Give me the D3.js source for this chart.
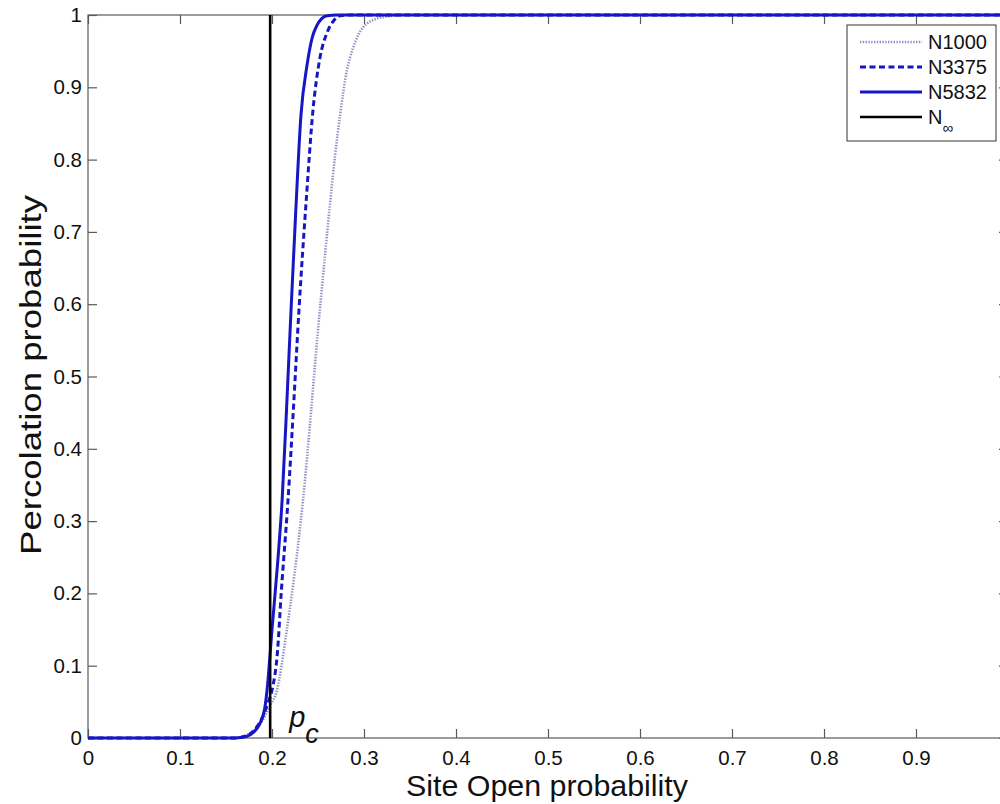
<!DOCTYPE html>
<html><head><meta charset="utf-8">
<script src="https://cdn.jsdelivr.net/npm/d3@7"></script>
<style>body{margin:0;background:#fff}svg{display:block}</style>
</head><body>
<svg id="c" width="1000" height="804"></svg>
<script>
const xTicks = [0,0.1,0.2,0.3,0.4,0.5,0.6,0.7,0.8,0.9,1];
const yTicks = [0,0.1,0.2,0.3,0.4,0.5,0.6,0.7,0.8,0.9,1];
const seriesNames = ["N1000","N3375","N5832"];
const n1000X = [0,0.16,0.17,0.18,0.19,0.198,0.2054,0.215,0.2337,0.252,0.274,0.2815,0.288,0.299,0.314,0.325,0.347,1];
const n1000Y = [0,0,0.003,0.01,0.025,0.045,0.066,0.14,0.329,0.592,0.862,0.924,0.954,0.983,0.995,0.998,1,1];
const n3375X = [0,0.16,0.17,0.18,0.19,0.196,0.2,0.206,0.21,0.2174,0.2235,0.2293,0.237,0.2446,0.252,0.26,0.267,0.274,0.285,1];
const n3375Y = [0,0,0.002,0.01,0.03,0.05,0.066,0.12,0.2,0.329,0.46,0.592,0.74,0.869,0.94,0.976,0.992,0.999,1,1];
const n5832X = [0,0.16,0.172,0.18,0.186,0.192,0.1946,0.2,0.206,0.211,0.216,0.2207,0.2255,0.2315,0.238,0.244,0.249,0.254,0.26,0.27,1];
const n5832Y = [0,0,0.002,0.008,0.018,0.04,0.066,0.15,0.24,0.329,0.46,0.592,0.72,0.862,0.93,0.97,0.986,0.995,0.999,1,1];
const pc = 0.198;

const svg = d3.select("#c");
const L = 88, T = 15, R = 1008, B = 738;
const x = d3.scaleLinear().domain([0,1]).range([L,R]);
const y = d3.scaleLinear().domain([0,1]).range([B,T]);
const axisCol = "#5a5a5a";
const font = "Liberation Sans, Arial, sans-serif";

svg.append("rect").attr("x",L).attr("y",T).attr("width",R-L).attr("height",B-T)
  .attr("fill","none").attr("stroke",axisCol).attr("stroke-width",1.2);

const tl = 9;
const gx = svg.append("g").attr("transform",`translate(0,${B})`)
  .call(d3.axisBottom(x).tickValues(xTicks.slice(0,10)).tickSize(-tl).tickPadding(12).tickFormat(d3.format("")));
const gxt = svg.append("g").attr("transform",`translate(0,${T})`)
  .call(d3.axisTop(x).tickValues(xTicks).tickSize(-tl).tickFormat(""));
const gy = svg.append("g").attr("transform",`translate(${L},0)`)
  .call(d3.axisLeft(y).tickValues(yTicks).tickSize(-tl).tickPadding(6).tickFormat(d3.format("")));
const gyr = svg.append("g").attr("transform",`translate(${R},0)`)
  .call(d3.axisRight(y).tickValues(yTicks).tickSize(-tl).tickFormat(""));
[gx,gxt,gy,gyr].forEach(g=>{
  g.select(".domain").remove();
  g.selectAll(".tick line").attr("stroke",axisCol).attr("stroke-width",1.2);
  g.selectAll("text").attr("font-family",font).attr("font-size",20.5).attr("fill","#111");
});

const line = d3.line().x(d=>x(d[0])).y(d=>y(d[1])).curve(d3.curveMonotoneX);
const styles = [
  {X:n1000X,Y:n1000Y,col:"#9292c4",w:2.6,dash:"1.4,1.4"},
  {X:n3375X,Y:n3375Y,col:"#1616c4",w:3,dash:"6,3.5"},
  {X:n5832X,Y:n5832Y,col:"#1616c4",w:3,dash:null}
];
styles.forEach(s=>{
  const pts = s.X.map((v,i)=>[v,s.Y[i]]);
  const p = svg.append("path").datum(pts).attr("d",line).attr("fill","none")
    .attr("stroke",s.col).attr("stroke-width",s.w);
  if(s.dash) p.attr("stroke-dasharray",s.dash);
});
svg.append("line").attr("x1",x(pc)).attr("x2",x(pc)).attr("y1",y(0)).attr("y2",y(1))
  .attr("stroke","#000").attr("stroke-width",2.6);

const pt = svg.append("text").attr("x",x(pc)+19).attr("y",727).attr("font-family",font)
  .attr("font-size",29).attr("font-style","italic").attr("fill","#111");
pt.append("tspan").text("p");
pt.append("tspan").attr("dy",16).attr("font-size",27).text("c");

const lg = svg.append("g");
lg.append("rect").attr("x",847).attr("y",25).attr("width",149).attr("height",116)
  .attr("fill","#fff").attr("stroke","#333").attr("stroke-width",1);
const legItems = [
  {name:seriesNames[0],col:"#9292c4",w:2.6,dash:"1.4,1.4"},
  {name:seriesNames[1],col:"#1616c4",w:3,dash:"6,3.5"},
  {name:seriesNames[2],col:"#1616c4",w:3,dash:null},
  {name:"N",col:"#000",w:2.6,dash:null,sub:"∞"}
];
legItems.forEach((it,i)=>{
  const yy = 42 + i*25;
  const l = lg.append("line").attr("x1",860).attr("x2",922).attr("y1",yy).attr("y2",yy)
    .attr("stroke",it.col).attr("stroke-width",it.w);
  if(it.dash) l.attr("stroke-dasharray",it.dash);
  const t = lg.append("text").attr("x",928).attr("y",yy+7).attr("font-family",font)
    .attr("font-size",20).attr("fill","#111").text(it.name);
  if(it.sub) t.append("tspan").attr("dy",9).attr("font-size",15).text(it.sub);
});

svg.append("text").attr("x",547).attr("y",796).attr("text-anchor","middle")
  .attr("font-family",font).attr("font-size",30).attr("fill","#111")
  .attr("textLength",282).attr("lengthAdjust","spacingAndGlyphs").text("Site Open probability");
svg.append("text").attr("transform",`translate(41,375) rotate(-90)`).attr("text-anchor","middle")
  .attr("font-family",font).attr("font-size",30).attr("fill","#111")
  .attr("textLength",360).attr("lengthAdjust","spacingAndGlyphs").text("Percolation probability");
</script>
</body></html>
